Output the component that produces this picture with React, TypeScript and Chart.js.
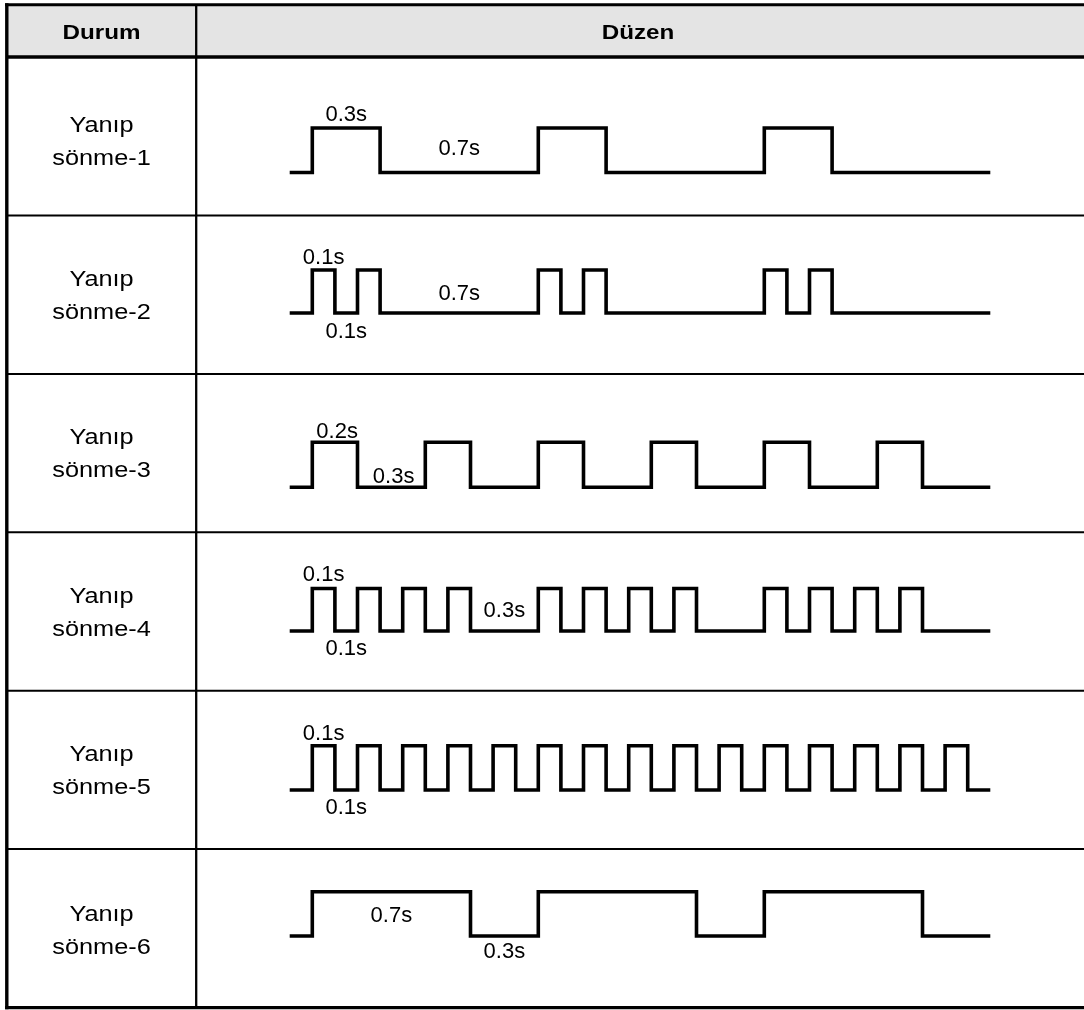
import React, { useEffect, useRef } from "react";
import { Chart, registerables } from "chart.js";

Chart.register(...registerables);

// ---------------- DATA ----------------
const HEADERS = ["Durum", "Düzen"];

const ROW_LABELS = [
  ["Yanıp", "sönme-1"],
  ["Yanıp", "sönme-2"],
  ["Yanıp", "sönme-3"],
  ["Yanıp", "sönme-4"],
  ["Yanıp", "sönme-5"],
  ["Yanıp", "sönme-6"],
];

// time window of each pattern (seconds)
const T_START = -0.1;
const T_END = 3.0;

// switching instants (s): rising edge, falling edge, rising edge, ...
const EDGES_1 = [0, 0.3, 1.0, 1.3, 2.0, 2.3];
const EDGES_2 = [0, 0.1, 0.2, 0.3, 1.0, 1.1, 1.2, 1.3, 2.0, 2.1, 2.2, 2.3];
const EDGES_3 = [0, 0.2, 0.5, 0.7, 1.0, 1.2, 1.5, 1.7, 2.0, 2.2, 2.5, 2.7];
const EDGES_4 = [
  0, 0.1, 0.2, 0.3, 0.4, 0.5, 0.6, 0.7,
  1.0, 1.1, 1.2, 1.3, 1.4, 1.5, 1.6, 1.7,
  2.0, 2.1, 2.2, 2.3, 2.4, 2.5, 2.6, 2.7,
];
const EDGES_5 = [
  0, 0.1, 0.2, 0.3, 0.4, 0.5, 0.6, 0.7, 0.8, 0.9,
  1.0, 1.1, 1.2, 1.3, 1.4, 1.5, 1.6, 1.7, 1.8, 1.9,
  2.0, 2.1, 2.2, 2.3, 2.4, 2.5, 2.6, 2.7, 2.8, 2.9,
];
const EDGES_6 = [0, 0.7, 1.0, 1.7, 2.0, 2.7];

const PATTERNS = [EDGES_1, EDGES_2, EDGES_3, EDGES_4, EDGES_5, EDGES_6];

// duration annotations per row
const DURATION_TEXT_1 = ["0.3s", "0.7s"];
const DURATION_TEXT_2 = ["0.1s", "0.7s", "0.1s"];
const DURATION_TEXT_3 = ["0.2s", "0.3s"];
const DURATION_TEXT_4 = ["0.1s", "0.1s", "0.3s"];
const DURATION_TEXT_5 = ["0.1s", "0.1s"];
const DURATION_TEXT_6 = ["0.7s", "0.3s"];
const DURATION_TEXTS = [
  DURATION_TEXT_1, DURATION_TEXT_2, DURATION_TEXT_3,
  DURATION_TEXT_4, DURATION_TEXT_5, DURATION_TEXT_6,
];

// ---------------- LAYOUT ----------------
const W = 1084;
const H = 1010;
const FONT = '"Liberation Sans", Arial, Helvetica, sans-serif';

const FRAME_LEFT = 6.8;
const FRAME_TOP = 4.7;
const FRAME_BOTTOM = 1007.6;
const COL_X = 196.2;
const HEADER_BOTTOM = 57;
const ROW_LINES = [215.5, 373.9, 532.3, 690.7, 849.1];
const HEADER_X = [101.5, 638];
const ROW_LABEL_SHIFT = [4.5, 0, 0, 0, 0, 1];

// pixel rows of the low / high level of each waveform
const WAVE_LOW_PX = [172.5, 313, 487.3, 631, 790, 936];
const WAVE_HIGH_PX = [128, 270, 442.3, 588.5, 745.7, 891.7];

// time axis placement
const T0_PX = 312.3;
const PX_PER_S = 226;

// annotation placement per row: [time, level, cap-middle offset px]
const ANN_POS = [
  [[0.15, 1, -15], [0.65, 0, -25]],
  [[0.05, 1, -13.5], [0.65, 0, -20.5], [0.15, 0, 17]],
  [[0.11, 1, -12.5], [0.36, 0, -12.5]],
  [[0.05, 1, -15.5], [0.15, 0, 16], [0.85, 0, -22]],
  [[0.05, 1, -14], [0.15, 0, 16]],
  [[0.35, 1, 22.3], [0.85, 0, 14.5]],
];

function buildPoints(edges: number[]) {
  const pts = [{ x: T_START, y: 0 }];
  edges.forEach((t, i) => pts.push({ x: t, y: i % 2 === 0 ? 1 : 0 }));
  pts.push({ x: T_END, y: 0 });
  return pts;
}

function stretchedText(
  ctx: CanvasRenderingContext2D,
  text: string,
  x: number,
  capMid: number,
  size: number,
  bold: boolean,
  sx: number
) {
  ctx.save();
  ctx.font = `${bold ? "bold " : ""}${size}px ${FONT}`;
  ctx.textAlign = "center";
  ctx.textBaseline = "alphabetic";
  ctx.fillStyle = "#000";
  ctx.translate(x, capMid + 0.358 * size);
  ctx.scale(sx, 1);
  ctx.fillText(text, 0, 0);
  ctx.restore();
}

const tablePlugin = {
  id: "tableGrid",
  beforeDatasetsDraw(chart: any) {
    const ctx: CanvasRenderingContext2D = chart.ctx;
    ctx.save();
    ctx.fillStyle = "#ffffff";
    ctx.fillRect(0, 0, W, H);
    ctx.fillStyle = "#e4e4e4";
    ctx.fillRect(FRAME_LEFT, FRAME_TOP, W - FRAME_LEFT, HEADER_BOTTOM - FRAME_TOP);

    ctx.strokeStyle = "#000";
    const line = (x1: number, y1: number, x2: number, y2: number, w: number) => {
      ctx.lineWidth = w;
      ctx.beginPath();
      ctx.moveTo(x1, y1);
      ctx.lineTo(x2, y2);
      ctx.stroke();
    };
    ROW_LINES.forEach((y) => line(FRAME_LEFT, y, W + 5, y, 2));
    line(COL_X, FRAME_TOP, COL_X, FRAME_BOTTOM, 2.3);
    line(FRAME_LEFT, HEADER_BOTTOM, W + 5, HEADER_BOTTOM, 3.6);
    line(FRAME_LEFT - 1.7, FRAME_TOP, W + 5, FRAME_TOP, 3);
    line(FRAME_LEFT - 1.7, FRAME_BOTTOM, W + 5, FRAME_BOTTOM, 3.4);
    line(FRAME_LEFT, FRAME_TOP - 1.5, FRAME_LEFT, FRAME_BOTTOM + 1.7, 3.4);
    ctx.restore();

    const headerMid = (FRAME_TOP + HEADER_BOTTOM) / 2 + 0.8;
    HEADERS.forEach((h, i) => stretchedText(ctx, h, HEADER_X[i], headerMid, 20, true, 1.21));

    const tops = [HEADER_BOTTOM, ...ROW_LINES];
    const bottoms = [...ROW_LINES, FRAME_BOTTOM];
    ROW_LABELS.forEach((lines, i) => {
      const c = (tops[i] + bottoms[i]) / 2 + ROW_LABEL_SHIFT[i];
      const labelX = (FRAME_LEFT + COL_X) / 2;
      stretchedText(ctx, lines[0], labelX, c - 16.5, 22, false, 1.15);
      stretchedText(ctx, lines[1], labelX, c + 16.5, 22, false, 1.15);
    });
  },
  afterDatasetsDraw(chart: any) {
    const ctx: CanvasRenderingContext2D = chart.ctx;
    const xs = chart.scales.x;
    DURATION_TEXTS.forEach((texts, r) => {
      const ys = chart.scales["y" + r];
      texts.forEach((txt, k) => {
        const [t, level, dy] = ANN_POS[r][k];
        const px = xs.getPixelForValue(t);
        const py = ys.getPixelForValue(level) + dy;
        stretchedText(ctx, txt, px, py, 22, false, 1.0);
      });
    });
  },
};

export default function App() {
  const ref = useRef<HTMLCanvasElement | null>(null);

  useEffect(() => {
    if (!ref.current) return;
    const scales: any = {
      x: {
        type: "linear",
        display: false,
        min: -T0_PX / PX_PER_S,
        max: (W - T0_PX) / PX_PER_S,
      },
    };
    PATTERNS.forEach((_, i) => {
      const span = WAVE_LOW_PX[i] - WAVE_HIGH_PX[i];
      scales["y" + i] = {
        type: "linear",
        display: false,
        min: (WAVE_LOW_PX[i] - H) / span,
        max: WAVE_LOW_PX[i] / span,
      };
    });

    const chart = new Chart(ref.current, {
      type: "line",
      data: {
        datasets: PATTERNS.map((edges, i) => ({
          label: ROW_LABELS[i].join(" "),
          data: buildPoints(edges),
          xAxisID: "x",
          yAxisID: "y" + i,
          stepped: true,
          borderColor: "#000",
          borderWidth: 3.6,
          borderJoinStyle: "miter",
          borderCapStyle: "butt",
          pointRadius: 0,
          pointHoverRadius: 0,
          fill: false,
          tension: 0,
        })),
      } as any,
      options: {
        responsive: false,
        maintainAspectRatio: false,
        animation: false,
        devicePixelRatio: 1,
        layout: { padding: 0 },
        events: [],
        plugins: {
          legend: { display: false },
          tooltip: { enabled: false },
          title: { display: false },
        },
        scales,
      } as any,
      plugins: [tablePlugin],
    });
    return () => chart.destroy();
  }, []);

  return (
    <div
      style={{
        position: "fixed",
        left: 0,
        top: 0,
        width: W,
        height: H,
        background: "#fff",
      }}
    >
      <canvas ref={ref} width={W} height={H} style={{ display: "block", width: W, height: H }} />
    </div>
  );
}
